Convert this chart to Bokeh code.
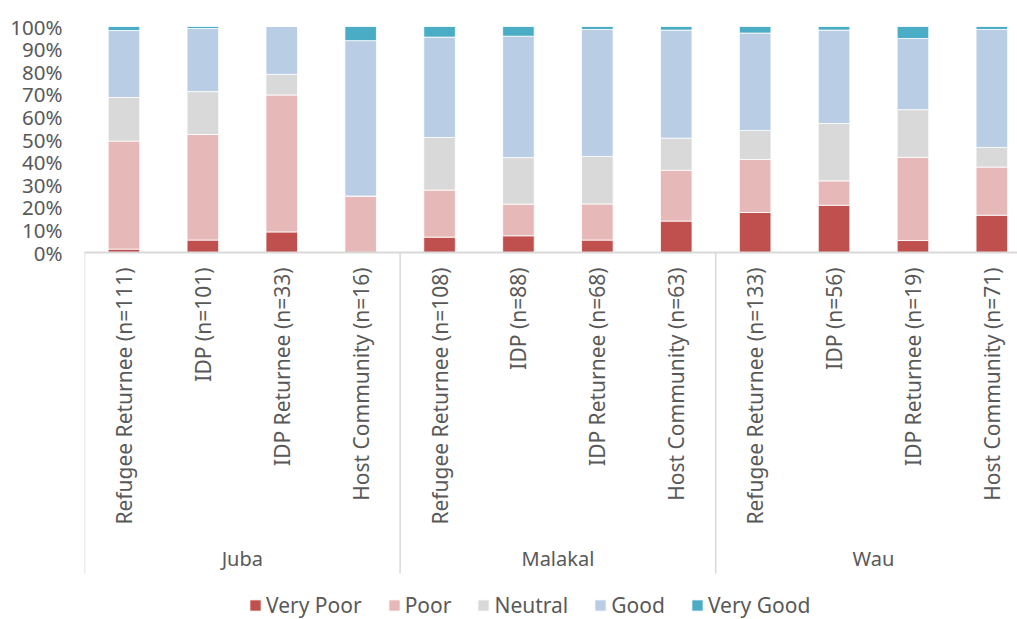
import math
from bokeh.plotting import figure
from bokeh.models import (ColumnDataSource, Range1d, FixedTicker, NumeralTickFormatter,
                          Legend, LegendItem)
from bokeh.core.properties import value
from bokeh.embed import file_html
from bokeh.resources import INLINE

# ---------------- data ----------------
cities = ["Juba", "Malakal", "Wau"]
groups = ["Refugee Returnee", "IDP", "IDP Returnee", "Host Community"]
sample_sizes = [111, 101, 33, 16, 108, 88, 68, 63, 133, 56, 19, 71]
ratings = ["Very Poor", "Poor", "Neutral", "Good", "Very Good"]

very_poor = [1.5, 5.5, 9.1, 0.0, 6.8, 7.4, 5.5, 13.9, 17.7, 20.9, 5.3, 16.5]
poor = [47.8, 46.7, 60.6, 25.0, 20.8, 14.0, 16.0, 22.5, 23.5, 10.8, 36.8, 21.3]
neutral = [19.3, 19.0, 9.1, 0.0, 23.3, 20.6, 21.0, 14.2, 12.8, 25.4, 21.1, 8.7]
good = [29.6, 27.9, 21.2, 68.75, 44.4, 53.7, 56.2, 47.8, 43.1, 41.3, 31.5, 52.2]
very_good = [1.8, 0.9, 0.0, 6.25, 4.7, 4.3, 1.3, 1.6, 2.9, 1.6, 5.3, 1.3]

colors = ["#c0504d", "#e6b9b8", "#d9d9d9", "#b9cde5", "#4bacc6"]

# ---------------- derived ----------------
n_groups = len(groups)
categories = []
xs = []
for ci, c in enumerate(cities):
    for gi, g in enumerate(groups):
        k = ci * n_groups + gi
        categories.append(f"{g} (n={sample_sizes[k]})")
        xs.append(k + 0.5)

series = [very_poor, poor, neutral, good, very_good]
data = {"x": xs, "label": categories}
for name, vals in zip(ratings, series):
    data[name] = [v / 100.0 for v in vals]
src = ColumnDataSource(data)

# ---------------- figure ----------------
FONT = "Noto Sans"
TXT = "#595959"
W, H = 1017, 619
LEFT, TOP = 84, 18
BASE = 252                      # pixel row of 0 %
PX_PER_CAT = 78.9
PX_PER_UNIT = 226.0
FRAME_W = W - LEFT
FRAME_H = H - TOP
x_end = FRAME_W / PX_PER_CAT
y_end = (BASE - TOP) / PX_PER_UNIT
y_start = y_end - FRAME_H / PX_PER_UNIT

p = figure(width=W, height=H, output_backend="svg", toolbar_location=None,
           x_range=Range1d(0, x_end), y_range=Range1d(y_start, y_end),
           x_axis_location=None, min_border_left=LEFT, min_border_right=0,
           min_border_top=TOP, min_border_bottom=0)
p.outline_line_color = None
p.xgrid.visible = False
p.ygrid.visible = False
p.background_fill_color = "white"
p.border_fill_color = "white"

renderers = p.vbar_stack(ratings, x="x", width=0.4, source=src, color=colors,
                         line_color="white", line_width=0.8)

# y axis
yax = p.yaxis[0]
yax.ticker = FixedTicker(ticks=[i / 10 for i in range(11)])
yax.formatter = NumeralTickFormatter(format="0%")
yax.axis_line_color = None
yax.major_tick_line_color = None
yax.major_tick_out = 0
yax.major_tick_in = 0
yax.minor_tick_line_color = None
yax.major_label_standoff = 22
yax.major_label_text_font = FONT
yax.major_label_text_font_size = "20.5px"
yax.major_label_text_color = TXT

# category axis drawn manually: baseline + group separators
n_cat = len(categories)
p.segment(x0=[0], y0=[0], x1=[n_cat], y1=[0], line_color="#d9d9d9", line_width=2)
sep_x = [i * n_groups for i in range(len(cities) + 1)]
p.segment(x0=sep_x, y0=[0] * len(sep_x), x1=sep_x, y1=[-321 / PX_PER_UNIT] * len(sep_x),
          line_color="#d9d9d9", line_width=1.5)

# category labels (rotated)
p.text(x="x", y=-15 / PX_PER_UNIT, text="label", source=src, angle=math.pi / 2,
       text_align="right", text_baseline="middle", text_font=value(FONT),
       text_font_size="21px", text_color=TXT)

# city labels
city_x = [i * n_groups + n_groups / 2 for i in range(len(cities))]
p.text(x=city_x, y=[-306 / PX_PER_UNIT] * len(cities), text=cities,
       text_align="center", text_baseline="middle", text_font=value(FONT),
       text_font_size="20px", text_color=TXT)

# legend
items = [LegendItem(label=r, renderers=[rr]) for r, rr in zip(ratings, renderers)]
legend = Legend(items=items, orientation="horizontal", location=(164, 0),
                glyph_width=14, glyph_height=14, label_standoff=4, spacing=25,
                padding=0, margin=0, border_line_color=None, background_fill_alpha=0,
                label_text_font=FONT, label_text_font_size="21px",
                label_text_color=TXT, label_height=20)
p.add_layout(legend)

open("out.html", "w").write(file_html(p, INLINE))
